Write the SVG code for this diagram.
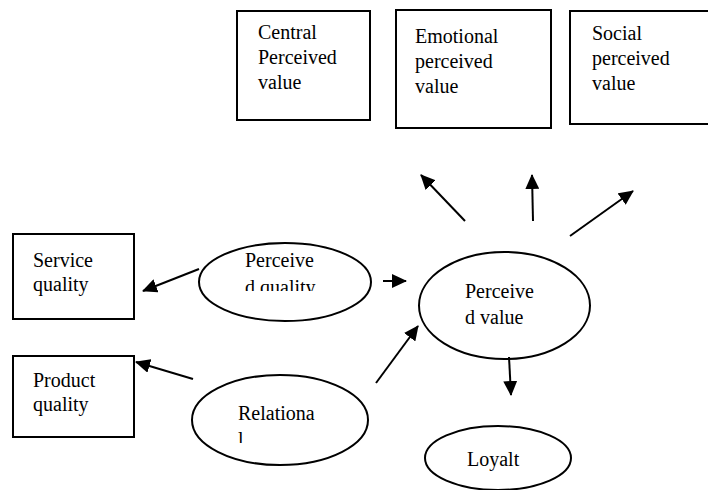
<svg xmlns="http://www.w3.org/2000/svg" width="708" height="490" viewBox="0 0 708 490">
<style>
.box{fill:#fff;stroke:#000;stroke-width:2}
.ell{fill:#fff;stroke:#000;stroke-width:2}
.t{font-family:"Liberation Serif","Times New Roman",serif;font-size:20px;fill:#000}
.c{stroke:#000;stroke-width:2;fill:none;marker-end:url(#ah)}
</style>
<defs>
<marker id="ah" markerWidth="7.5" markerHeight="7" refX="7" refY="3.5" orient="auto" markerUnits="strokeWidth">
<path d="M0,0 L7.5,3.5 L0,7 Z" fill="#000"/>
</marker>
<clipPath id="cpq"><rect x="200" y="240" width="172" height="51"/></clipPath>
<clipPath id="crel"><rect x="190" y="370" width="180" height="73"/></clipPath>
</defs>
<g id="central">
<rect class="box" x="237" y="11" width="133" height="109"/>
<text class="t" x="258" y="39">Central</text>
<text class="t" x="258" y="64">Perceived</text>
<text class="t" x="258" y="89">value</text>
</g>
<g id="emotional">
<rect class="box" x="396" y="10" width="155" height="118"/>
<text class="t" x="415" y="43">Emotional</text>
<text class="t" x="415" y="68">perceived</text>
<text class="t" x="415" y="93">value</text>
</g>
<g id="social">
<rect class="box" x="570" y="11" width="150" height="113"/>
<text class="t" x="592" y="40">Social</text>
<text class="t" x="592" y="65">perceived</text>
<text class="t" x="592" y="90">value</text>
</g>
<g id="service">
<rect class="box" x="13" y="234" width="121" height="85"/>
<text class="t" x="33" y="267">Service</text>
<text class="t" x="33" y="291">quality</text>
</g>
<g id="product">
<rect class="box" x="13" y="356" width="121" height="81"/>
<text class="t" x="33" y="387">Product</text>
<text class="t" x="33" y="411">quality</text>
</g>
<g id="perceived-quality">
<ellipse class="ell" cx="285" cy="282" rx="86" ry="39"/>
<g clip-path="url(#cpq)">
<text class="t" x="245" y="267">Perceive</text>
<text class="t" x="245" y="294">d quality</text>
</g>
</g>
<g id="relational">
<ellipse class="ell" cx="280" cy="420" rx="88" ry="45"/>
<g clip-path="url(#crel)">
<text class="t" x="238" y="420">Relationa</text>
<text class="t" x="238" y="446">l</text>
</g>
</g>
<g id="perceived-value">
<ellipse class="ell" cx="504.5" cy="305.5" rx="85.5" ry="53.5"/>
<text class="t" x="465" y="298">Perceive</text>
<text class="t" x="465" y="324">d value</text>
</g>
<g id="loyalty">
<ellipse class="ell" cx="498" cy="458" rx="73" ry="32"/>
<text class="t" x="467" y="466">Loyalt</text>
</g>
<g id="connectors">
<line class="c" x1="199" y1="269" x2="143" y2="291"/>
<line class="c" x1="193" y1="379" x2="136" y2="362"/>
<line class="c" x1="383" y1="281" x2="406" y2="281"/>
<line class="c" x1="376" y1="383" x2="418" y2="326"/>
<line class="c" x1="465" y1="221" x2="421" y2="175"/>
<line class="c" x1="533" y1="221" x2="532" y2="175"/>
<line class="c" x1="570" y1="236" x2="633" y2="191"/>
<line class="c" x1="509" y1="357" x2="511" y2="395"/>
</g>
</svg>
